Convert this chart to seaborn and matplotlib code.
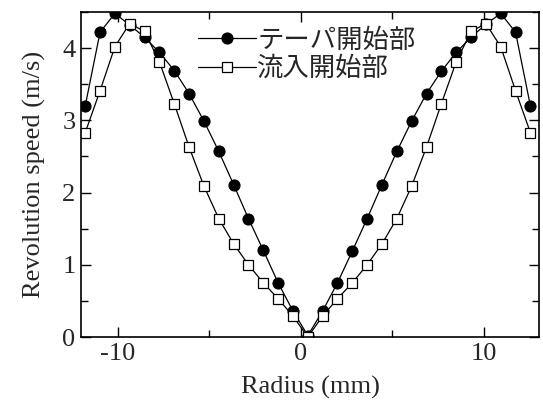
import matplotlib
matplotlib.use("Agg")
import matplotlib.pyplot as plt
import seaborn as sns
from matplotlib.ticker import MultipleLocator

radius = [-11.77, -10.96, -10.15, -9.34, -8.53, -7.72, -6.91, -6.10, -5.29, -4.48,
          -3.67, -2.86, -2.05, -1.24, -0.43, 0.38, 1.19, 2.00, 2.81, 3.62,
          4.43, 5.24, 6.05, 6.86, 7.67, 8.48, 9.29, 10.10, 10.91, 11.72, 12.53]
taper = [3.20, 4.22, 4.48, 4.32, 4.15, 3.94, 3.69, 3.37, 2.99, 2.57,
         2.11, 1.64, 1.20, 0.75, 0.36, 0.02, 0.36, 0.75, 1.19, 1.64,
         2.11, 2.57, 2.99, 3.37, 3.68, 3.94, 4.15, 4.33, 4.48, 4.22, 3.20]
inflow = [2.83, 3.41, 4.02, 4.34, 4.23, 3.81, 3.23, 2.63, 2.09, 1.64,
          1.29, 1.00, 0.75, 0.53, 0.29, 0.00, 0.29, 0.53, 0.75, 1.00,
          1.29, 1.64, 2.09, 2.63, 3.23, 3.81, 4.23, 4.34, 4.02, 3.41, 2.83]
labels = ["テーパ開始部", "流入開始部"]

sns.set_theme(style="ticks")
plt.rcParams["font.family"] = ["Liberation Serif", "DejaVu Serif"]
plt.rcParams["axes.unicode_minus"] = False

fig = plt.figure(figsize=(5.43, 4.01), dpi=100)
ax = fig.add_axes([81/543, 64/401, 458/543, 325/401])

sns.lineplot(x=radius, y=taper, ax=ax, color="black", linewidth=0.9,
             marker="o", markersize=8, markerfacecolor="black",
             markeredgecolor="black", label=labels[0], sort=False)
sns.lineplot(x=radius, y=inflow, ax=ax, color="black", linewidth=0.9,
             marker="s", markersize=7.5, markerfacecolor="white",
             markeredgecolor="black", markeredgewidth=0.9,
             label=labels[1], sort=False)

ax.set_xlim(-12, 13)
ax.set_ylim(0, 4.5)
ax.xaxis.set_major_locator(MultipleLocator(10))
ax.xaxis.set_minor_locator(MultipleLocator(5))
ax.yaxis.set_major_locator(MultipleLocator(1))
ax.yaxis.set_minor_locator(MultipleLocator(0.5))
ax.tick_params(which="both", direction="in", top=True, right=True,
               width=1.0, color="black", labelsize=19, pad=4)
ax.tick_params(which="major", length=7)
ax.tick_params(which="minor", length=5)
for s in ax.spines.values():
    s.set_linewidth(1.2)
    s.set_color("black")

ax.set_xlabel("Radius (mm)", fontsize=19, labelpad=8)
ax.set_ylabel("Revolution speed (m/s)", fontsize=19, labelpad=12)

leg = ax.legend(loc="upper left", bbox_to_anchor=(0.255, 0.955),
                frameon=False, borderpad=0, borderaxespad=0,
                handlelength=2.2, handletextpad=0.05, labelspacing=0.05,
                prop={"family": ["Noto Sans CJK JP", "DejaVu Sans"], "size": 19})

fig.savefig("out.png", dpi=100)
